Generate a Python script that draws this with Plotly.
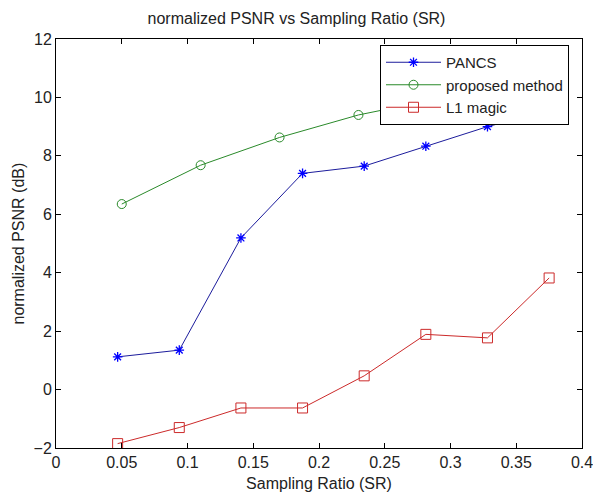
import plotly.graph_objects as go

# Data
sr_pancs = [0.046875, 0.09375, 0.140625, 0.1875, 0.234375, 0.28125, 0.328125, 0.375]
psnr_pancs = [1.12, 1.35, 5.19, 7.40, 7.65, 8.33, 9.00, 9.55]

sr_proposed = [0.05, 0.11, 0.17, 0.23, 0.29, 0.35]
psnr_proposed = [6.35, 7.68, 8.63, 9.40, 9.95, 10.45]

sr_l1 = [0.046875, 0.09375, 0.140625, 0.1875, 0.234375, 0.28125, 0.328125, 0.375]
psnr_l1 = [-1.85, -1.30, -0.63, -0.63, 0.47, 1.89, 1.77, 3.82]

x_ticks = [0, 0.05, 0.1, 0.15, 0.2, 0.25, 0.3, 0.35, 0.4]
x_tick_labels = ["0", "0.05", "0.1", "0.15", "0.2", "0.25", "0.3", "0.35", "0.4"]
y_ticks = [-2, 0, 2, 4, 6, 8, 10, 12]

FONT = "Liberation Sans, Arial, sans-serif"
TXT = "#222222"

fig = go.Figure()
fig.add_trace(go.Scatter(
    x=sr_pancs, y=psnr_pancs, mode="lines+markers", name="PANCS",
    line=dict(color="#1c1c9c", width=1),
    marker=dict(symbol="asterisk-open", size=8, color="#0000ff",
                line=dict(color="#0000ff", width=1.3)),
))
fig.add_trace(go.Scatter(
    x=sr_proposed, y=psnr_proposed, mode="lines+markers", name="proposed method",
    line=dict(color="#2a8a2a", width=1),
    marker=dict(symbol="circle-open", size=9, color="#2a8a2a",
                line=dict(color="#2a8a2a", width=1)),
))
fig.add_trace(go.Scatter(
    x=sr_l1, y=psnr_l1, mode="lines+markers", name="L1 magic",
    line=dict(color="#cc2a2a", width=1),
    marker=dict(symbol="square-open", size=10, color="#cc2a2a",
                line=dict(color="#cc2a2a", width=1)),
))

axis_common = dict(
    showgrid=False, zeroline=False, showline=True, linecolor="black", linewidth=1,
    mirror="allticks", ticks="inside", ticklen=5, tickcolor="black",
    tickfont=dict(family=FONT, size=16, color=TXT), automargin=False,
    ticklabeloverflow="allow",
)

L, R, T, B = 56, 11, 39, 44
W, H = 593, 492
PW, PH = W - L - R, H - T - B

fig.update_layout(
    width=W, height=H,
    margin=dict(l=L, r=R, t=T, b=B),
    paper_bgcolor="white", plot_bgcolor="white",
    title=dict(text="normalized PSNR vs Sampling Ratio (SR)", x=0.5, xanchor="center",
               y=1 - 18 / H, yanchor="middle",
               font=dict(family=FONT, size=16, color=TXT)),
    xaxis=dict(range=[0, 0.4], tickvals=x_ticks, ticktext=x_tick_labels,
               title=dict(text="Sampling Ratio (SR)",
                          font=dict(family=FONT, size=16, color=TXT)),
               **axis_common),
    yaxis=dict(range=[-2, 12], tickvals=y_ticks, **axis_common),
    legend=dict(x=(380 - L) / PW, y=1 - (45 - T) / PH, xanchor="left", yanchor="top",
                bgcolor="white", bordercolor="black", borderwidth=1,
                font=dict(family=FONT, size=15, color=TXT),
                itemwidth=55, tracegroupgap=0),
    showlegend=True,
)

fig.add_annotation(
    text="normalized PSNR (dB)", textangle=-90, showarrow=False,
    xref="paper", yref="paper", x=(18 - L) / PW, y=0.5,
    xanchor="center", yanchor="middle",
    font=dict(family=FONT, size=16, color=TXT),
)

fig.write_html("out.html", post_script="document.body.style.margin='0';",
               config={"displayModeBar": False})
